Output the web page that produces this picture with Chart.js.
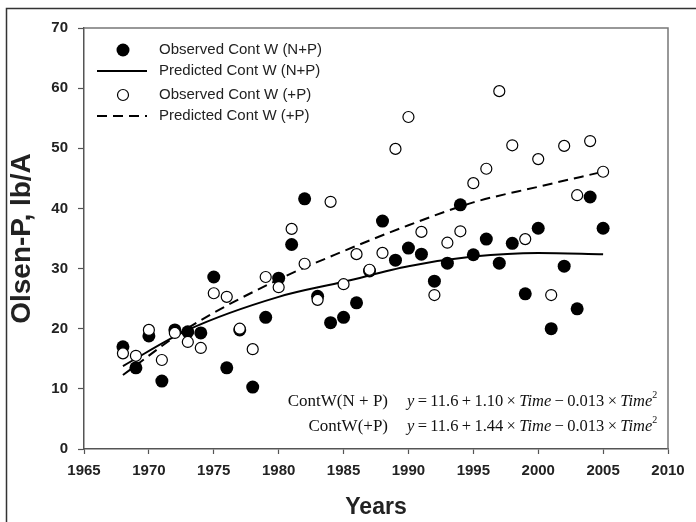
<!DOCTYPE html>
<html><head><meta charset="utf-8">
<script src="https://cdn.jsdelivr.net/npm/chart.js@4.4.0/dist/chart.umd.min.js"></script>
<style>html,body{margin:0;padding:0;background:#fff;}#wrap{position:relative;width:696px;height:522px;}</style>
</head><body><div id="wrap"><canvas id="c" width="696" height="522"></canvas></div>
<script>
const years = [1968,1969,1970,1971,1972,1973,1974,1975,1976,1977,1978,1979,1980,1981,1982,1983,1984,1985,1986,1987,1988,1989,1990,1991,1992,1993,1994,1995,1996,1997,1998,1999,2000,2001,2002,2003,2004,2005];
const observedNP = [17.0,13.5,18.8,11.3,19.8,19.5,19.3,28.6,13.5,19.8,10.3,21.9,28.4,34.0,41.6,25.4,21.0,21.9,24.3,29.6,37.9,31.4,33.4,32.4,27.9,30.9,40.6,32.3,34.9,30.9,34.2,25.8,36.7,20.0,30.4,23.3,41.9,36.7];
const observedP = [15.9,15.5,19.8,14.8,19.3,17.8,16.8,25.9,25.3,20.0,16.6,28.6,26.9,36.6,30.8,24.8,41.1,27.4,32.4,29.8,32.6,49.9,55.2,36.1,25.6,34.3,36.2,44.2,46.6,59.5,50.5,34.9,48.2,25.6,50.4,42.2,51.2,46.1];
const predYears = [1968,1973,1980,1985,1990,1995,2000,2005];
const predictedNP = [13.8,19.8,25.3,27.8,30.4,32.0,32.6,32.4];
const predictedP = [12.3,20.1,28.2,32.9,37.2,41.0,43.6,46.1];
const xTicks = [1965,1970,1975,1980,1985,1990,1995,2000,2005,2010];
const yTicks = [0,10,20,30,40,50,60,70];
const legendLabels = ['Observed Cont W (N+P)','Predicted Cont W (N+P)','Observed Cont W (+P)','Predicted Cont W (+P)'];
const eqLabels = ['ContW(N + P)','ContW(+P)'];
const eqCoefs = ['1.10','1.44'];

const pts = (xs, ys) => xs.map((x,i)=>({x:x,y:ys[i]}));
const SANS = '"Liberation Sans", Arial, sans-serif';
const SERIF = '"Liberation Serif", "Times New Roman", serif';
const TS = '\u2009';

function drawRich(ctx, parts, x, y){
  let cx = x;
  parts.forEach(p=>{
    ctx.font = p.f;
    ctx.fillText(p.t, cx, y + (p.dy||0));
    cx += ctx.measureText(p.t).width;
  });
}

const decor = {
  id:'decor',
  beforeDraw(chart){
    const ctx = chart.ctx;
    ctx.save();
    ctx.fillStyle='#fff'; ctx.fillRect(0,0,chart.width,chart.height);
    ctx.strokeStyle='#333'; ctx.lineWidth=1.5;
    ctx.beginPath(); ctx.moveTo(6.5,chart.height); ctx.lineTo(6.5,8.5); ctx.lineTo(chart.width,8.5); ctx.stroke();
    ctx.restore();
  },
  afterDraw(chart){
    const ctx = chart.ctx, a = chart.chartArea;
    ctx.save();
    ctx.strokeStyle='#777'; ctx.lineWidth=1.5;
    ctx.beginPath(); ctx.moveTo(a.left,a.top); ctx.lineTo(a.right,a.top); ctx.lineTo(a.right,a.bottom); ctx.stroke();
    // legend
    ctx.textBaseline='middle'; ctx.textAlign='left';
    const ly=[50,71,95,116];
    ctx.beginPath(); ctx.arc(123,ly[0],6.5,0,Math.PI*2); ctx.fillStyle='#000'; ctx.fill();
    ctx.strokeStyle='#000'; ctx.lineWidth=2;
    ctx.beginPath(); ctx.moveTo(97,ly[1]); ctx.lineTo(147,ly[1]); ctx.stroke();
    ctx.lineWidth=1.2; ctx.beginPath(); ctx.arc(123,ly[2],5.5,0,Math.PI*2); ctx.fillStyle='#fff'; ctx.fill(); ctx.stroke();
    ctx.lineWidth=2; ctx.setLineDash([10,6]);
    ctx.beginPath(); ctx.moveTo(97,ly[3]); ctx.lineTo(147,ly[3]); ctx.stroke(); ctx.setLineDash([]);
    ctx.fillStyle='#222'; ctx.font = '15px '+SANS;
    legendLabels.forEach((t,i)=>ctx.fillText(t,159,ly[i]));
    // equations
    const ey=[402,427];
    ctx.fillStyle='#111';
    eqLabels.forEach((t,i)=>{
      ctx.font='17px '+SERIF; ctx.textAlign='right'; ctx.fillText(t,388,ey[i]);
      ctx.textAlign='left';
      drawRich(ctx,[
        {t:'y',f:'italic 16.5px '+SERIF},
        {t:TS+'='+TS+'11.6'+TS+'+'+TS+eqCoefs[i]+TS+'×'+TS,f:'16.5px '+SERIF},
        {t:'Time',f:'italic 16.5px '+SERIF},
        {t:TS+'−'+TS+'0.013'+TS+'×'+TS,f:'16.5px '+SERIF},
        {t:'Time',f:'italic 16.5px '+SERIF},
        {t:'2',f:'10px '+SERIF,dy:-7}
      ],407,ey[i]);
    });
    ctx.restore();
  }
};

new Chart(document.getElementById('c'),{
  type:'scatter',
  data:{datasets:[
    {label:legendLabels[2],data:pts(years,observedP),order:0,pointRadius:5.5,pointHoverRadius:5.5,pointBackgroundColor:'#fff',pointBorderColor:'#000',pointBorderWidth:1.2,showLine:false},
    {label:legendLabels[0],data:pts(years,observedNP),order:1,pointRadius:6.5,pointHoverRadius:6.5,pointBackgroundColor:'#000',pointBorderColor:'#000',pointBorderWidth:0,showLine:false},
    {label:legendLabels[1],data:pts(predYears,predictedNP),order:2,showLine:true,borderColor:'#000',borderWidth:2,pointRadius:0,tension:0.4,cubicInterpolationMode:'monotone'},
    {label:legendLabels[3],data:pts(predYears,predictedP),order:3,showLine:true,borderColor:'#000',borderWidth:2,borderDash:[10,6],pointRadius:0,tension:0.4,cubicInterpolationMode:'monotone'}
  ]},
  options:{
    responsive:false,animation:false,devicePixelRatio:1,
    layout:{padding:{left:0,top:28,right:28,bottom:0}},
    plugins:{legend:{display:false},tooltip:{enabled:false}},
    scales:{
      x:{type:'linear',min:1965,max:2010,
        afterBuildTicks(s){s.ticks=xTicks.map(v=>({value:v}));},
        afterFit(s){s.height=73;},
        grid:{drawOnChartArea:false,drawTicks:true,tickLength:5,color:'#555',tickWidth:1.2},
        border:{display:true,color:'#555',width:1.5},
        ticks:{padding:8,color:'#222',font:{family:SANS,size:15,weight:'bold'},callback:v=>String(v),maxRotation:0},
        title:{display:true,text:'Years',color:'#222',font:{family:SANS,size:23,weight:'bold'},padding:{top:0,bottom:1}}
      },
      y:{type:'linear',min:0,max:70,
        afterBuildTicks(s){s.ticks=yTicks.map(v=>({value:v}));},
        afterFit(s){s.width=84;},
        grid:{drawOnChartArea:false,drawTicks:true,tickLength:6,color:'#555',tickWidth:1.2},
        border:{display:true,color:'#555',width:1.5},
        ticks:{padding:10,color:'#222',font:{family:SANS,size:15,weight:'bold'},callback:v=>String(v)},
        title:{display:true,text:'Olsen-P, lb/A',color:'#222',font:{family:SANS,size:28,weight:'bold'},padding:{top:5,bottom:0}}
      }
    }
  },
  plugins:[decor]
});
</script></body></html>
